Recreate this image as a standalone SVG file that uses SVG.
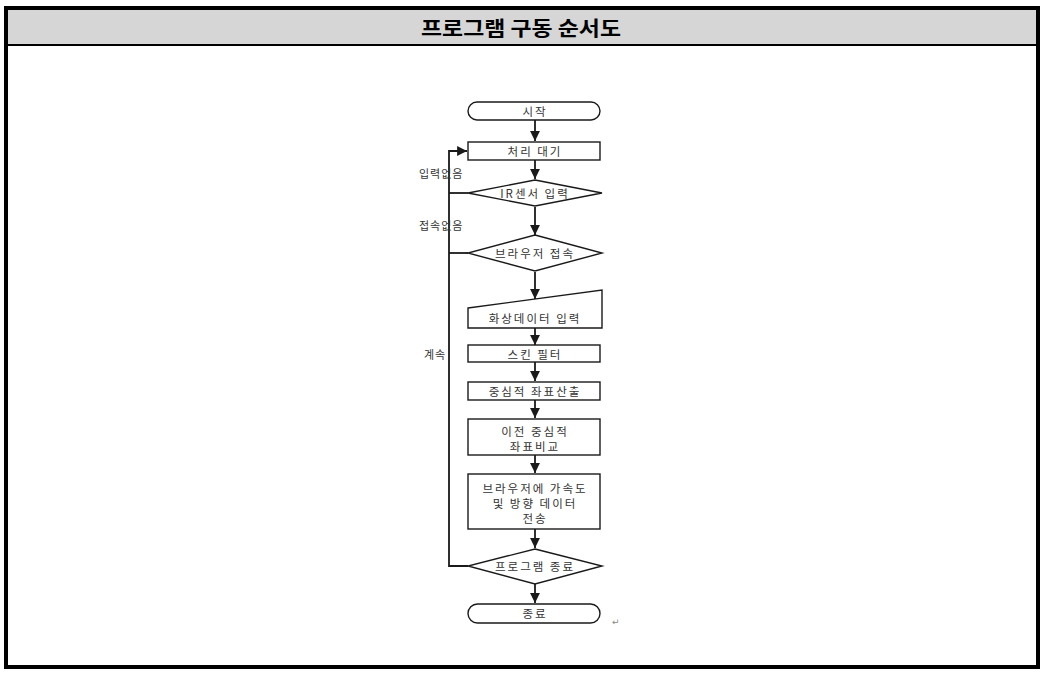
<svg xmlns="http://www.w3.org/2000/svg" width="1043" height="675" viewBox="0 0 1043 675">
<style>
.shape{fill:#fff;stroke:#1a1a1a;stroke-width:1.4}
.line{fill:none;stroke:#1a1a1a;stroke-width:1.8}
.t{font-family:"Noto Sans CJK KR","Noto Sans",sans-serif;font-size:11.5px;fill:#333;text-anchor:middle;dominant-baseline:central;letter-spacing:2px}
.lbl{font-family:"Noto Sans CJK KR","Noto Sans",sans-serif;font-size:11px;fill:#333;dominant-baseline:central;letter-spacing:1px}
</style>
<defs>
<marker id="ah" viewBox="0 0 10 10" refX="10" refY="5" markerWidth="5.5" markerHeight="5.5" orient="auto" markerUnits="strokeWidth">
<path d="M0,0 L10,5 L0,10 z" fill="#1a1a1a"/>
</marker>
</defs>
<rect x="0" y="0" width="1043" height="675" fill="#fff"/>
<g id="frame">
<rect x="8" y="9" width="1028" height="36" fill="#d6d6d6"/>
<line x1="6" y1="45" x2="1038" y2="45" stroke="#000" stroke-width="2"/>
<rect x="6" y="8" width="1032" height="659" fill="none" stroke="#000" stroke-width="4"/>
<text x="521" y="27" font-family="'Noto Sans CJK KR',sans-serif" font-size="20" font-weight="bold" text-anchor="middle" dominant-baseline="central" textLength="200" lengthAdjust="spacingAndGlyphs" fill="#000">프로그램 구동 순서도</text>
</g>
<g id="connectors">
<line class="line" x1="535" y1="120" x2="535" y2="141" marker-end="url(#ah)"/>
<line class="line" x1="535" y1="160" x2="535" y2="179" marker-end="url(#ah)"/>
<line class="line" x1="535" y1="207" x2="535" y2="235" marker-end="url(#ah)"/>
<line class="line" x1="535" y1="272" x2="535" y2="299" marker-end="url(#ah)"/>
<line class="line" x1="535" y1="328" x2="535" y2="345" marker-end="url(#ah)"/>
<line class="line" x1="535" y1="362" x2="535" y2="381" marker-end="url(#ah)"/>
<line class="line" x1="535" y1="400" x2="535" y2="418" marker-end="url(#ah)"/>
<line class="line" x1="535" y1="455" x2="535" y2="473" marker-end="url(#ah)"/>
<line class="line" x1="535" y1="529" x2="535" y2="548" marker-end="url(#ah)"/>
<line class="line" x1="535" y1="584" x2="535" y2="603" marker-end="url(#ah)"/>
<polyline class="line" points="468,566 449,566 449,151 467,151" marker-end="url(#ah)"/>
<line class="line" x1="468" y1="193" x2="449" y2="193"/>
<line class="line" x1="468" y1="253" x2="449" y2="253"/>
<text class="lbl" x="419" y="173">입력없음</text>
<text class="lbl" x="419" y="225">접속없음</text>
<text class="lbl" x="424" y="354">계속</text>
</g>
<g id="n-start">
<rect class="shape" x="468" y="102" width="132" height="18" rx="9"/>
<text class="t" x="535" y="111">시작</text>
</g>
<g id="n-wait">
<rect class="shape" x="468" y="142" width="132" height="18"/>
<text class="t" x="535" y="151">처리 대기</text>
</g>
<g id="n-ir">
<polygon class="shape" points="535,180 602,193 535,206 468,193"/>
<text class="t" x="535" y="193">IR센서 입력</text>
</g>
<g id="n-browser">
<polygon class="shape" points="535,235 602,253 535,271 468,253"/>
<text class="t" x="535" y="253">브라우저 접속</text>
</g>
<g id="n-image">
<polygon class="shape" points="468,308 602,290 602,328 468,328"/>
<text class="t" x="535" y="318">화상데이터 입력</text>
</g>
<g id="n-skin">
<rect class="shape" x="468" y="345" width="132" height="17"/>
<text class="t" x="535" y="354">스킨 필터</text>
</g>
<g id="n-center">
<rect class="shape" x="468" y="382" width="132" height="18"/>
<text class="t" x="535" y="391">중심적 좌표산출</text>
</g>
<g id="n-compare">
<rect class="shape" x="468" y="419" width="132" height="36"/>
<text class="t" x="535" y="431">이전 중심적</text>
<text class="t" x="535" y="446">좌표비교</text>
</g>
<g id="n-send">
<rect class="shape" x="468" y="474" width="132" height="55"/>
<text class="t" x="535" y="488">브라우저에 가속도</text>
<text class="t" x="535" y="503">및 방향 데이터</text>
<text class="t" x="535" y="518">전송</text>
</g>
<g id="n-end-check">
<polygon class="shape" points="535,549 602,566 535,584 468,566"/>
<text class="t" x="535" y="566">프로그램 종료</text>
</g>
<g id="n-end">
<rect class="shape" x="468" y="604" width="132" height="19" rx="9.5"/>
<text class="t" x="535" y="613">종료</text>
<text x="612" y="622" font-family="'DejaVu Sans',sans-serif" font-size="9" fill="#888" dominant-baseline="central">↵</text>
</g>
</svg>
